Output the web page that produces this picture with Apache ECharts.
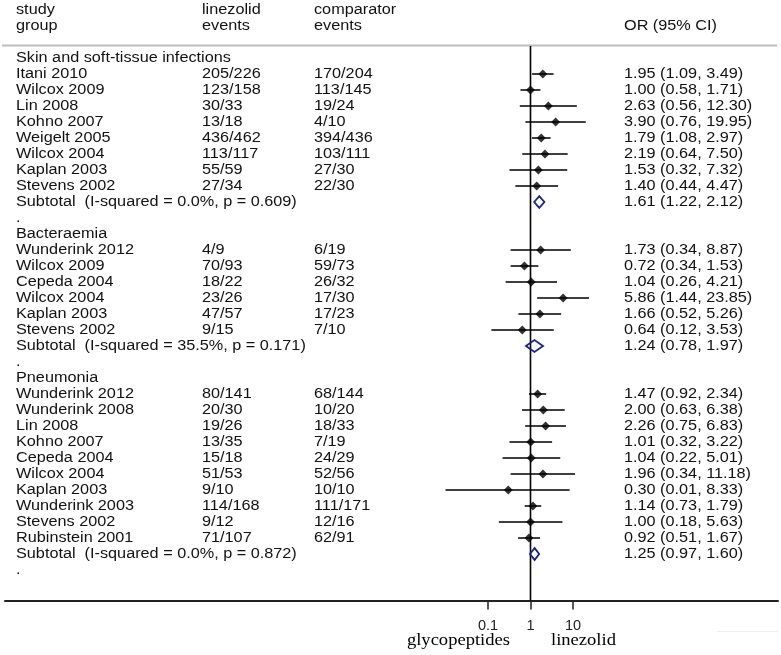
<!DOCTYPE html>
<html>
<head>
<meta charset="utf-8">
<script src="https://cdn.jsdelivr.net/npm/echarts@6/dist/echarts.min.js"></script>
<style>
html,body{margin:0;padding:0;background:#fff;}
#c{width:781px;height:655px;}
</style>
</head>
<body>
<div id="c"></div>
<script>
// ---------------- data ----------------
const rowLabels = [
  'Skin and soft-tissue infections',
  'Itani 2010','Wilcox 2009','Lin 2008','Kohno 2007','Weigelt 2005','Wilcox 2004','Kaplan 2003','Stevens 2002',
  'Subtotal  (I-squared = 0.0%, p = 0.609)',
  '.',
  'Bacteraemia',
  'Wunderink 2012','Wilcox 2009','Cepeda 2004','Wilcox 2004','Kaplan 2003','Stevens 2002',
  'Subtotal  (I-squared = 35.5%, p = 0.171)',
  '.',
  'Pneumonia',
  'Wunderink 2012','Wunderink 2008','Lin 2008','Kohno 2007','Cepeda 2004','Wilcox 2004','Kaplan 2003','Wunderink 2003','Stevens 2002','Rubinstein 2001',
  'Subtotal  (I-squared = 0.0%, p = 0.872)',
  '.'
];
const linezolidEvents = [
  '', '205/226','123/158','30/33','13/18','436/462','113/117','55/59','27/34', '', '',
  '', '4/9','70/93','18/22','23/26','47/57','9/15', '', '',
  '', '80/141','20/30','19/26','13/35','15/18','51/53','9/10','114/168','9/12','71/107', '', ''
];
const comparatorEvents = [
  '', '170/204','113/145','19/24','4/10','394/436','103/111','27/30','22/30', '', '',
  '', '6/19','59/73','26/32','17/30','17/23','7/10', '', '',
  '', '68/144','10/20','18/33','7/19','24/29','52/56','10/10','111/171','12/16','62/91', '', ''
];
const oddsRatio = [
  null, 1.95,1.00,2.63,3.90,1.79,2.19,1.53,1.40, 1.61, null,
  null, 1.73,0.72,1.04,5.86,1.66,0.64, 1.24, null,
  null, 1.47,2.00,2.26,1.01,1.04,1.96,0.30,1.14,1.00,0.92, 1.25, null
];
const ciLow = [
  null, 1.09,0.58,0.56,0.76,1.08,0.64,0.32,0.44, 1.22, null,
  null, 0.34,0.34,0.26,1.44,0.52,0.12, 0.78, null,
  null, 0.92,0.63,0.75,0.32,0.22,0.34,0.01,0.73,0.18,0.51, 0.97, null
];
const ciHigh = [
  null, 3.49,1.71,12.30,19.95,2.97,7.50,7.32,4.47, 2.12, null,
  null, 8.87,1.53,4.21,23.85,5.26,3.53, 1.97, null,
  null, 2.34,6.38,6.83,3.22,5.01,11.18,8.33,1.79,5.63,1.67, 1.60, null
];
const subtotalRows = [9, 18, 31];
const headerStudy = ['study', 'group'];
const headerLinezolid = ['linezolid', 'events'];
const headerComparator = ['comparator', 'events'];
const headerOR = 'OR (95% CI)';
const tickLabels = ['0.1', '1', '10'];
const favoursLeft = 'glycopeptides';
const favoursRight = 'linezolid';
const nullEffect = 1;

// ---------------- build series data ----------------
const studyCI = [], studyPoints = [], subtotalCI = [];
oddsRatio.forEach((v, r) => {
  if (v === null) return;
  if (subtotalRows.indexOf(r) >= 0) {
    subtotalCI.push([ciLow[r], ciHigh[r], r, v]);
  } else {
    studyCI.push([ciLow[r], ciHigh[r], r, v]);
    studyPoints.push([v, r]);
  }
});

// ---------------- layout ----------------
const X_LEFT = 5, X_RIGHT = 778, X_ONE = 530.5, DECADE = 42.5;
const xMin = Math.pow(10, (X_LEFT - X_ONE) / DECADE);
const xMax = Math.pow(10, (X_RIGHT - X_ONE) / DECADE);
const yMin = -1, yMax = 33.9, ROW = 16, TOP = 42;
const gridH = (yMax - yMin) * ROW;
const SANS = '"Liberation Sans", Arial, sans-serif';
const SERIF = '"Liberation Serif", "Times New Roman", serif';
const SX = 1.16;

const chart = echarts.init(document.getElementById('c'));
chart.setOption({
  animation: false,
  backgroundColor: '#fff',
  grid: [
    { left: X_LEFT, width: X_RIGHT - X_LEFT, top: TOP, height: gridH },
    { left: X_ONE - DECADE, width: 2 * DECADE, top: TOP, height: gridH }
  ],
  xAxis: [
    { type: 'log', gridIndex: 0, min: xMin, max: xMax, position: 'bottom',
      axisLine: { show: true, onZero: false, lineStyle: { color: '#222', width: 2 } },
      axisTick: { show: false }, axisLabel: { show: false }, splitLine: { show: false } },
    { type: 'log', gridIndex: 1, min: 0.1, max: 10, position: 'bottom',
      axisLine: { show: false, onZero: false },
      axisTick: { show: true, length: 9, lineStyle: { color: '#222', width: 1.5 } },
      axisLabel: { show: true, fontSize: 14.5, color: '#222', margin: 18, fontFamily: SANS,
        formatter: v => tickLabels[Math.round(Math.log10(v)) + 1] },
      splitLine: { show: false } }
  ],
  yAxis: [
    { type: 'value', gridIndex: 0, inverse: true, min: yMin, max: yMax, show: false },
    { type: 'value', gridIndex: 1, inverse: true, min: yMin, max: yMax, show: false }
  ],
  series: [
    { type: 'line', xAxisIndex: 0, yAxisIndex: 0, silent: true, symbol: 'none', z: 1,
      data: [[nullEffect, -0.75], [nullEffect, yMax]],
      lineStyle: { color: '#000', width: 1.6 } },
    { type: 'custom', xAxisIndex: 0, yAxisIndex: 0, silent: true, z: 2,
      data: studyCI,
      encode: { x: [0, 1], y: 2 },
      renderItem: (params, api) => {
        const a = api.coord([api.value(0), api.value(2)]);
        const b = api.coord([api.value(1), api.value(2)]);
        return { type: 'line', shape: { x1: a[0], y1: a[1], x2: b[0], y2: b[1] },
          style: { stroke: '#000', lineWidth: 1.5 } };
      } },
    { type: 'scatter', xAxisIndex: 0, yAxisIndex: 0, silent: true, z: 3,
      data: studyPoints, symbol: 'diamond', symbolSize: 9,
      itemStyle: { color: '#000' } },
    { type: 'custom', xAxisIndex: 0, yAxisIndex: 0, silent: true, z: 3,
      data: subtotalCI,
      encode: { x: [0, 1, 3], y: 2 },
      renderItem: (params, api) => {
        const r = api.value(2);
        const lo = api.coord([api.value(0), r]);
        const hi = api.coord([api.value(1), r]);
        const mid = api.coord([api.value(3), r]);
        const h = api.size([0, 1])[1] * 0.37;
        return { type: 'polygon',
          shape: { points: [[lo[0], lo[1]], [mid[0], mid[1] - h], [hi[0], hi[1]], [mid[0], mid[1] + h]] },
          style: { fill: 'none', stroke: '#1c2483', lineWidth: 1.8 } };
      } }
  ]
});

// ---------------- text columns ----------------
const yOf = r => chart.convertToPixel({ yAxisIndex: 0 }, r);
const txt = (text, x, y, opts) => Object.assign({
  type: 'text', x: x, y: y, scaleX: SX, silent: true,
  style: { text: text, font: '14px ' + SANS, fill: '#111',
    align: 'left', verticalAlign: 'middle', textAlign: 'left', textVerticalAlign: 'middle' }
}, opts || {});

const g = [];
g.push({ type: 'line', silent: true, shape: { x1: 2, y1: 45.5, x2: 777, y2: 45.5 },
  style: { stroke: '#bdbdbd', lineWidth: 2 } });
g.push({ type: 'line', silent: true, shape: { x1: 717, y1: 631.5, x2: 778, y2: 631.5 },
  style: { stroke: '#eeeeee', lineWidth: 1 } });

[0, 1].forEach(i => {
  const y = yOf(i - 3);
  g.push(txt(headerStudy[i], 16, y));
  g.push(txt(headerLinezolid[i], 202, y));
  g.push(txt(headerComparator[i], 314, y));
});
g.push(txt(headerOR, 624, yOf(-2)));

rowLabels.forEach((lab, r) => {
  const y = yOf(r);
  g.push(txt(lab, 16, y));
  if (linezolidEvents[r]) g.push(txt(linezolidEvents[r], 202, y));
  if (comparatorEvents[r]) g.push(txt(comparatorEvents[r], 314, y));
  if (oddsRatio[r] !== null) {
    g.push(txt(oddsRatio[r].toFixed(2) + ' (' + ciLow[r].toFixed(2) + ', ' + ciHigh[r].toFixed(2) + ')', 624, y));
  }
});

const xOne = chart.convertToPixel({ xAxisIndex: 0 }, nullEffect);
const g2 = txt(favoursLeft, xOne - 20.5, 641);
g2.style = Object.assign({}, g2.style, { font: '16px ' + SERIF, align: 'right', textAlign: 'right', fill: '#000' });
g.push(g2);
const g3 = txt(favoursRight, xOne + 20.5, 641);
g3.style = Object.assign({}, g3.style, { font: '16px ' + SERIF, fill: '#000' });
g.push(g3);

chart.setOption({ graphic: { elements: g } });
</script>
</body>
</html>
